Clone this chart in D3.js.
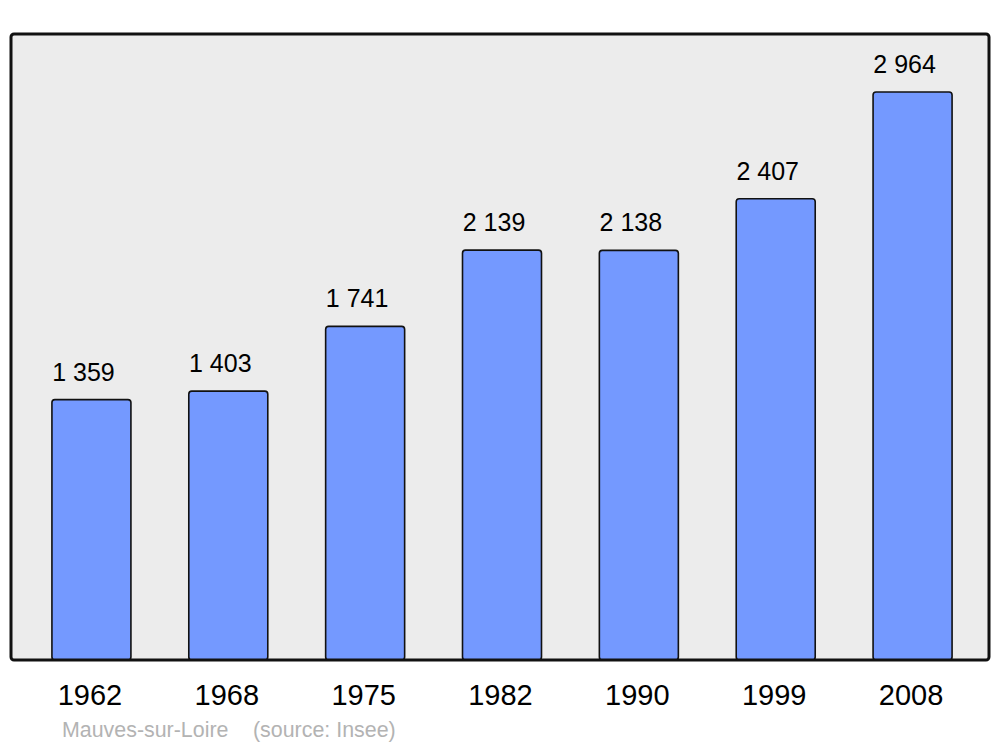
<!DOCTYPE html><meta charset="utf-8">
<title>Mauves-sur-Loire population</title>
<style>
  body{margin:0;background:#fff}
  svg{display:block;font-family:"Liberation Sans",Arial,sans-serif}
</style>
<script src="https://d3js.org/d3.v7.min.js"></script>
<body><script>
const years  = ["1962","1968","1975","1982","1990","1999","2008"];
const values = [1359, 1403, 1741, 2139, 2138, 2407, 2964];
const commune = "Mauves-sur-Loire", source = "(source: Insee)";

const W = 1000, H = 747;
const panel = {x0:11, x1:989, y0:34, y1:660};

const svg = d3.select("body").append("svg").attr("width",W).attr("height",H);

const x = d3.scaleBand().domain(years).range([23, 981]);
const y = d3.scaleLinear().domain([0, 3267]).range([panel.y1, panel.y0]);
const bw = 79;
const fmt = v => d3.format(",")(v).replace(/,/g, " ");

// panel
svg.append("rect")
  .attr("x",panel.x0).attr("y",panel.y0)
  .attr("width",panel.x1-panel.x0).attr("height",panel.y1-panel.y0)
  .attr("rx",3).attr("fill","#ececec");

// bars
svg.selectAll("rect.bar").data(values).enter().append("rect")
  .attr("class","bar")
  .attr("x",(d,i)=>x(years[i])+x.bandwidth()/2-bw/2)
  .attr("y",d=>y(d))
  .attr("width",bw)
  .attr("height",d=>y(0)-y(d))
  .attr("rx",3)
  .attr("fill","#7499ff").attr("stroke","#111").attr("stroke-width",1.6);

// value labels
svg.selectAll("text.val").data(values).enter().append("text")
  .attr("class","val")
  .attr("x",(d,i)=>x(years[i])+x.bandwidth()/2-8)
  .attr("y",d=>y(d)-19)
  .attr("text-anchor","middle").attr("font-size",25).attr("fill","#000")
  .text(fmt);

// panel border on top
svg.append("rect")
  .attr("x",panel.x0).attr("y",panel.y0)
  .attr("width",panel.x1-panel.x0).attr("height",panel.y1-panel.y0)
  .attr("rx",3).attr("fill","none").attr("stroke","#111").attr("stroke-width",3);

// year labels
svg.selectAll("text.yr").data(years).enter().append("text")
  .attr("class","yr")
  .attr("x",d=>x(d)+x.bandwidth()/2-1.5)
  .attr("y",705)
  .attr("text-anchor","middle").attr("font-size",29).attr("fill","#000")
  .text(d=>d);

// footer
svg.append("text").attr("x",62).attr("y",737).attr("font-size",21.4)
  .attr("fill","#b3b3b3").text(commune);
svg.append("text").attr("x",253).attr("y",737).attr("font-size",21.4)
  .attr("fill","#b3b3b3").text(source);
</script>
